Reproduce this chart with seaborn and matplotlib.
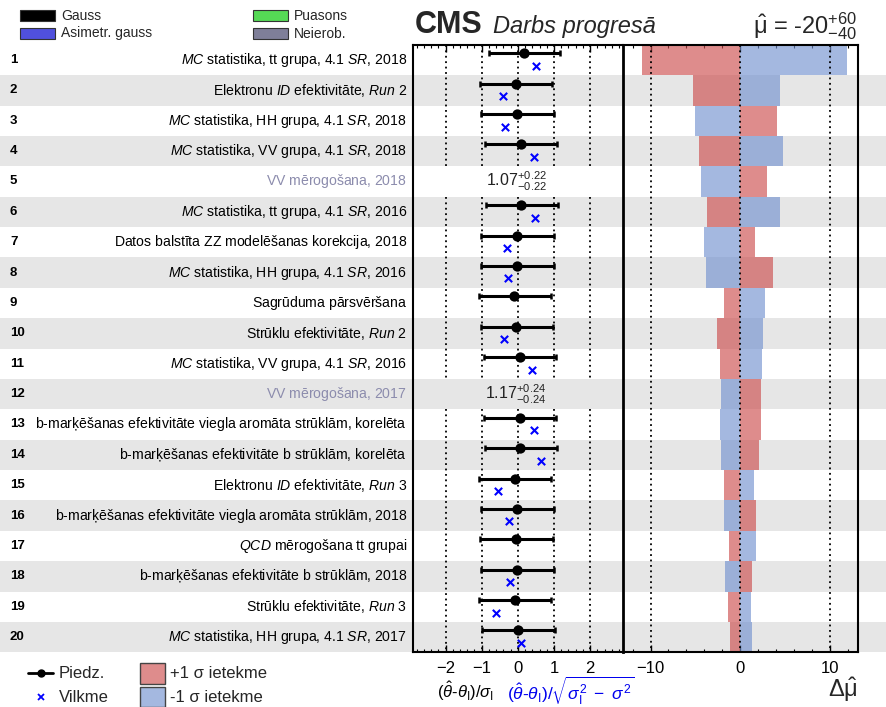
import matplotlib
matplotlib.use('Agg')
import matplotlib.pyplot as plt
import seaborn as sns
import numpy as np
import pandas as pd
from matplotlib.patches import Rectangle
from matplotlib.lines import Line2D

# ---------------- data ----------------
row_numbers = list(range(1, 21))
row_labels = [
    r"$\mathit{MC}$ statistika, tt grupa, 4.1 $\mathit{SR}$, 2018",
    r"Elektronu $\mathit{ID}$ efektivitāte, $\mathit{Run\ 2}$",
    r"$\mathit{MC}$ statistika, HH grupa, 4.1 $\mathit{SR}$, 2018",
    r"$\mathit{MC}$ statistika, VV grupa, 4.1 $\mathit{SR}$, 2018",
    "VV mērogošana, 2018",
    r"$\mathit{MC}$ statistika, tt grupa, 4.1 $\mathit{SR}$, 2016",
    "Datos balstīta ZZ modelēšanas korekcija, 2018",
    r"$\mathit{MC}$ statistika, HH grupa, 4.1 $\mathit{SR}$, 2016",
    "Sagrūduma pārsvēršana",
    r"Strūklu efektivitāte, $\mathit{Run\ 2}$",
    r"$\mathit{MC}$ statistika, VV grupa, 4.1 $\mathit{SR}$, 2016",
    "VV mērogošana, 2017",
    "b-marķēšanas efektivitāte viegla aromāta strūklām, korelēta",
    "b-marķēšanas efektivitāte b strūklām, korelēta",
    r"Elektronu $\mathit{ID}$ efektivitāte, $\mathit{Run\ 3}$",
    "b-marķēšanas efektivitāte viegla aromāta strūklām, 2018",
    r"$\mathit{QCD}$ mērogošana tt grupai",
    "b-marķēšanas efektivitāte b strūklām, 2018",
    r"Strūklu efektivitāte, $\mathit{Run\ 3}$",
    r"$\mathit{MC}$ statistika, HH grupa, 4.1 $\mathit{SR}$, 2017",
]
nan = np.nan
# rate parameters (rows 5 and 12): value, +err, -err
rate_rows = [5, 12]
rate_values = ["1.07", "1.17"]
rate_up = ["0.22", "0.24"]
rate_dn = ["0.22", "0.24"]

pull = [0.16, -0.06, -0.02, 0.08, nan, 0.10, -0.01, -0.01, -0.10, -0.05,
        0.06, nan, 0.06, 0.07, -0.07, -0.03, -0.05, -0.02, -0.07, 0.01]
pull_lo = [-0.80, -1.06, -1.02, -0.91, nan, -0.88, -1.02, -1.02, -1.08, -1.03,
           -0.94, nan, -0.95, -0.92, -1.07, -1.02, -1.05, -1.02, -1.07, -0.98]
pull_hi = [1.17, 0.94, 1.00, 1.08, nan, 1.10, 1.01, 1.01, 0.92, 0.96,
           1.06, nan, 1.05, 1.08, 0.92, 0.99, 0.97, 1.00, 0.92, 1.02]
constraint = [0.49, -0.42, -0.35, 0.46, nan, 0.47, -0.29, -0.27, nan, -0.38,
              0.40, nan, 0.46, 0.65, -0.54, -0.24, nan, -0.21, -0.60, 0.08]
impact_up = [-10.9, -5.3, 4.1, -4.6, 2.98, -3.7, 1.64, 3.68, -1.78, -2.56,
             -2.26, 2.3, 2.3, 2.08, -1.78, 1.71, -1.26, 1.27, -1.4, -1.18]
impact_down = [11.9, 4.46, -5.0, 4.8, -4.4, 4.46, -4.05, -3.82, 2.79, 2.5,
               2.39, -2.1, -2.26, -2.15, 1.49, -1.78, 1.71, -1.7, 1.16, 1.3]

pull_ticks = [-2, -1, 0, 1, 2]
impact_ticks = [-10, 0, 10]

df = pd.DataFrame({"row": row_numbers, "pull": pull, "lo": pull_lo, "hi": pull_hi,
                   "constr": constraint, "up": impact_up, "down": impact_down})

# ---------------- style ----------------
sns.set_theme(style="white")
plt.rcParams['font.family'] = ['Liberation Sans', 'DejaVu Sans']
plt.rcParams['mathtext.fontset'] = 'custom'
plt.rcParams['mathtext.rm'] = 'Liberation Sans'
plt.rcParams['mathtext.it'] = 'Liberation Sans:italic'
plt.rcParams['mathtext.bf'] = 'Liberation Sans:bold'
plt.rcParams['mathtext.sf'] = 'Liberation Sans'

W, H = 887, 707
fig = plt.figure(figsize=(W / 100, H / 100), dpi=100)

def fx(px):
    return px / W

def fy(py):
    return 1 - py / H

def as_math(s):
    # render every label through the same (mathtext) engine so sizes match
    if '$' in s:
        return s
    return r"$\mathrm{%s}$%s" % (s[0], s[1:])

top_px, bot_px = 44.8, 652.3
ax_b = fy(bot_px)
ax_h = (bot_px - top_px) / H
ylims = (20.5, 0.5)

RED = (205 / 255, 78 / 255, 78 / 255)
BLUE = (115 / 255, 146 / 255, 208 / 255)
ALPHA = 0.65
BAND = '#e6e6e6'

# background axis for bands and labels
bg = fig.add_axes([0, ax_b, 1, ax_h], zorder=0)
bg.set_xlim(0, W)
bg.set_ylim(*ylims)
bg.axis('off')
for r in row_numbers:
    if r % 2 == 0:
        bg.axhspan(r - 0.5, r + 0.5, color=BAND, lw=0)
for r, lab in zip(row_numbers, row_labels):
    col = '#8c8cad' if r in rate_rows else 'black'
    bg.text(10, r, str(r), ha='left', va='center', fontsize=9.5,
            fontweight='bold', color='black')
    bg.text(407, r, as_math(lab), ha='right', va='center', fontsize=10.1, color=col)

# ---------------- left panel: pulls ----------------
axL = fig.add_axes([fx(413), ax_b, fx(622.7) - fx(413), ax_h], zorder=2)
axL.set_facecolor('none')
axL.set_xlim(-2.9, 2.9)
axL.set_ylim(*ylims)

# dotted guide lines, interrupted at rate-parameter rows
segments = [(0.5, 4.5), (5.5, 11.5), (12.5, 20.5)]
for (y0, y1) in segments:
    axL.vlines(pull_ticks, y0, y1, colors='black', linestyles=(0, (1, 2)), lw=1.3, zorder=1)

valid = df.dropna(subset=["pull"])
yd = valid["row"] - 0.22
axL.hlines(yd, valid["lo"], valid["hi"], color='black', lw=2.2, zorder=3)
axL.vlines(valid["lo"], yd - 0.1, yd + 0.1, color='black', lw=1.8, zorder=3)
axL.vlines(valid["hi"], yd - 0.1, yd + 0.1, color='black', lw=1.8, zorder=3)
sns.scatterplot(x=valid["pull"], y=yd, ax=axL, color='black', s=55,
                edgecolor='black', linewidth=0, zorder=4, legend=False)
cv = df.dropna(subset=["constr"])
sns.scatterplot(x=cv["constr"], y=cv["row"] + 0.19, ax=axL, color='#0000ff',
                marker='x', s=28, linewidth=1.5, zorder=4, legend=False)

for r, v, u, d in zip(rate_rows, rate_values, rate_up, rate_dn):
    axL.text(-0.05, r, r"$%s^{+%s}_{-%s}$" % (v, u, d), ha='center', va='center',
             fontsize=11.5, color='#222222')

axL.set_xticks(pull_ticks)
axL.set_xticks(np.arange(-2.8, 2.81, 0.2), minor=True)
axL.set_yticks([])
axL.set_xlabel('')
axL.set_ylabel('')
axL.tick_params(axis='x', which='both', direction='in', top=True, bottom=True,
                labelsize=12, pad=6, colors='black')
axL.tick_params(axis='x', which='major', length=5, width=1)
axL.tick_params(axis='x', which='minor', length=2.5, width=0.8)
for s in axL.spines.values():
    s.set_color('black')
    s.set_linewidth(1.5)
axL.spines['right'].set_linewidth(2.0)

# ---------------- right panel: impacts ----------------
axR = fig.add_axes([fx(622.7), ax_b, fx(857.7) - fx(622.7), ax_h], zorder=1)
axR.set_facecolor('none')
sns.barplot(data=df, x="up", y="row", orient='h', native_scale=True, width=1.0,
            color=RED, saturation=1, alpha=ALPHA, errorbar=None, linewidth=0, ax=axR, zorder=2)
sns.barplot(data=df, x="down", y="row", orient='h', native_scale=True, width=1.0,
            color=BLUE, saturation=1, alpha=ALPHA, errorbar=None, linewidth=0, ax=axR, zorder=2)
axR.set_xlim(-13.1, 13.1)
axR.set_ylim(*ylims)
axR.vlines(impact_ticks, 0.5, 20.5, colors='black', linestyles=(0, (1, 2)), lw=1.3, zorder=3)
axR.set_xticks(impact_ticks)
axR.set_xticks(np.arange(-12, 12.1, 2), minor=True)
axR.set_yticks([])
axR.set_xlabel('')
axR.set_ylabel('')
axR.tick_params(axis='x', which='both', direction='in', top=True, bottom=True,
                labelsize=12, pad=6, colors='black')
axR.tick_params(axis='x', which='major', length=5, width=1)
axR.tick_params(axis='x', which='minor', length=2.5, width=0.8)
for s in axR.spines.values():
    s.set_color('black')
    s.set_linewidth(1.5)
axR.spines['left'].set_visible(False)

# ---------------- axis titles ----------------
fig.text(fx(437), fy(691), r"$(\hat{\theta}$-$\theta_{\mathrm{I}})/\sigma_{\mathrm{I}}$",
         ha='left', va='center', fontsize=12, color='black')
fig.text(fx(507), fy(691), r"$(\hat{\theta}$-$\theta_{\mathrm{I}})/\sqrt{\sigma_{\mathrm{I}}^{2}\ -\ \sigma^{2}}$",
         ha='left', va='center', fontsize=12.5, color='#0000ee')
fig.text(fx(858), fy(690), r"$\Delta\hat{\mathrm{\mu}}$", ha='right', va='center', fontsize=17)

# ---------------- header ----------------
fig.text(fx(415), fy(33), "CMS", ha='left', va='baseline', fontsize=22, fontweight='bold')
fig.text(fx(493), fy(33), "Darbs progresā", ha='left', va='baseline', fontsize=17, style='italic')
fig.text(fx(857), fy(33), r"$\hat{\mathrm{\mu}}$ = -20$^{+60}_{-40}$", ha='right', va='baseline', fontsize=17)

# ---------------- top legend ----------------
top_leg = [("Gauss", 'black', 20, 15.5), ("Asimetr. gauss", '#5050dd', 20, 33.5),
           ("Puasons", '#55d955', 253, 15.5), ("Neierob.", '#7f7f99', 253, 33.5)]
for name, c, x0, yc in top_leg:
    fig.patches.append(Rectangle((fx(x0), fy(yc + 5.5)), fx(35), 11 / H, transform=fig.transFigure,
                                 facecolor=c, edgecolor='#333333', lw=0.8))
    fig.text(fx(x0 + 41), fy(yc), name, ha='left', va='center', fontsize=10)

# ---------------- bottom legend ----------------
fig.lines.append(Line2D([fx(28), fx(53)], [fy(673), fy(673)], transform=fig.transFigure,
                        color='black', lw=2))
fig.lines.append(Line2D([fx(40.5)], [fy(673)], transform=fig.transFigure, color='black',
                        marker='o', markersize=5))
fig.lines.append(Line2D([fx(40.5)], [fy(697)], transform=fig.transFigure, color='#0000ff',
                        marker='x', markersize=4.5, mew=1.3, lw=0))
fig.text(fx(59), fy(673), "Piedz.", ha='left', va='center', fontsize=12)
fig.text(fx(59), fy(697), "Vilkme", ha='left', va='center', fontsize=12)
fig.patches.append(Rectangle((fx(140), fy(684)), fx(25), 21 / H, transform=fig.transFigure,
                             facecolor=(222/255, 140/255, 140/255), edgecolor='#444444', lw=1))
fig.patches.append(Rectangle((fx(140), fy(707)), fx(25), 20 / H, transform=fig.transFigure,
                             facecolor=(164/255, 184/255, 224/255), edgecolor='#444444', lw=1))
fig.text(fx(170), fy(673), "+1 σ ietekme", ha='left', va='center', fontsize=12)
fig.text(fx(170), fy(697), "-1 σ ietekme", ha='left', va='center', fontsize=12)

fig.savefig("out.png", dpi=100)
